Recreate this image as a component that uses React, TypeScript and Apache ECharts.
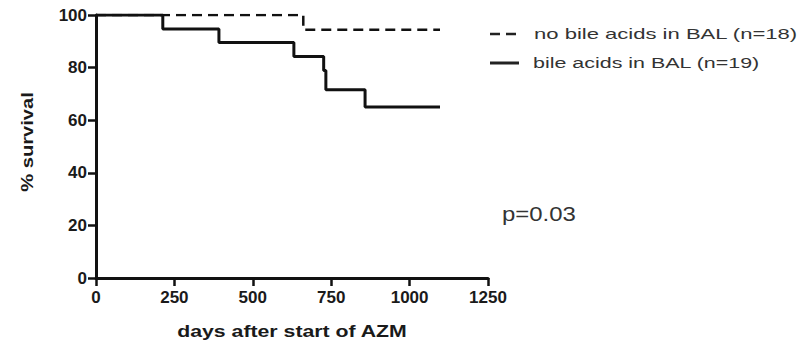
import React, { useEffect, useRef } from "react";
import * as echarts from "echarts";

// Kaplan–Meier survival after start of azithromycin
const bileDays = [0, 213, 392, 631, 726, 733, 858, 1097];
const bileSurvival = [100, 94.7, 89.5, 84.2, 78.9, 71.6, 65.0, 65.0];
const noBileDays = [0, 661, 1097];
const noBileSurvival = [100, 94.4, 94.4];

const xTicks = { min: 0, max: 1250, interval: 250 };
const yTicks = { min: 0, max: 100, interval: 20 };

const legendLabels = ["no bile acids in BAL (n=18)", "bile acids in BAL (n=19)"];
const xTitle = "days after start of AZM";
const yTitle = "% survival";
const pValue = "p=0.03";

const FONT = "'Liberation Sans', Arial, Helvetica, sans-serif";

function toPairs(xs: number[], ys: number[]) {
  return xs.map((x, i) => [x, ys[i]]);
}

function textEl(
  text: string,
  x: number,
  y: number,
  font: string,
  align: string,
  scaleX: number,
  fill: string,
  rotation = 0
) {
  return {
    type: "text",
    x,
    y,
    rotation,
    scaleX,
    silent: true,
    style: {
      text,
      font,
      fill,
      align,
      verticalAlign: "middle",
      textAlign: align,
      textVerticalAlign: "middle",
    },
  };
}

export default function App() {
  const ref = useRef<HTMLDivElement>(null);

  useEffect(() => {
    document.body.style.margin = "0";
    if (!ref.current) return;
    const chart = echarts.init(ref.current, null, { renderer: "svg" });

    const tickLabel = {
      color: "#1a1a1a",
      fontFamily: FONT,
      fontWeight: "bold",
      fontSize: 17,
      formatter: (v: number) => String(v),
    };

    chart.setOption({
      animation: false,
      backgroundColor: "#ffffff",
      grid: { left: 96, top: 15, width: 392, height: 263 },
      xAxis: {
        type: "value",
        min: xTicks.min,
        max: xTicks.max,
        interval: xTicks.interval,
        axisLine: { show: true, lineStyle: { color: "#111", width: 3 } },
        axisTick: { show: true, length: 8, lineStyle: { color: "#111", width: 2.5 } },
        splitLine: { show: false },
        axisLabel: { ...tickLabel, margin: 11 },
      },
      yAxis: {
        type: "value",
        min: yTicks.min,
        max: yTicks.max,
        interval: yTicks.interval,
        axisLine: { show: true, lineStyle: { color: "#111", width: 3 } },
        axisTick: { show: true, length: 8, lineStyle: { color: "#111", width: 2.5 } },
        splitLine: { show: false },
        axisLabel: { ...tickLabel, margin: 9 },
      },
      series: [
        {
          name: legendLabels[0],
          type: "line",
          step: "end",
          symbol: "none",
          data: toPairs(noBileDays, noBileSurvival),
          lineStyle: { color: "#111", width: 2.5, type: [10, 6] },
          z: 2,
        },
        {
          name: legendLabels[1],
          type: "line",
          step: "end",
          symbol: "none",
          data: toPairs(bileDays, bileSurvival),
          lineStyle: { color: "#111", width: 3 },
          z: 3,
        },
      ],
      graphic: [
        // legend
        {
          type: "line",
          silent: true,
          shape: { x1: 490, y1: 34, x2: 519, y2: 34 },
          style: { stroke: "#222", lineWidth: 2.5, lineDash: [10, 6] },
        },
        textEl(legendLabels[0], 534, 34, `15px ${FONT}`, "left", 1.47, "#333"),
        {
          type: "line",
          silent: true,
          shape: { x1: 490, y1: 63, x2: 519, y2: 63 },
          style: { stroke: "#222", lineWidth: 3 },
        },
        textEl(legendLabels[1], 533, 63, `15px ${FONT}`, "left", 1.43, "#333"),
        // p-value
        textEl(pValue, 502, 214, `21px ${FONT}`, "left", 1.14, "#333"),
        // axis titles
        textEl(xTitle, 292, 331, `bold 16px ${FONT}`, "center", 1.33, "#1a1a1a"),
        textEl(yTitle, 28, 142, `bold 16px ${FONT}`, "center", 1.26, "#1a1a1a", Math.PI / 2),
      ],
    });

    return () => chart.dispose();
  }, []);

  return <div ref={ref} style={{ width: 805, height: 345 }} />;
}
